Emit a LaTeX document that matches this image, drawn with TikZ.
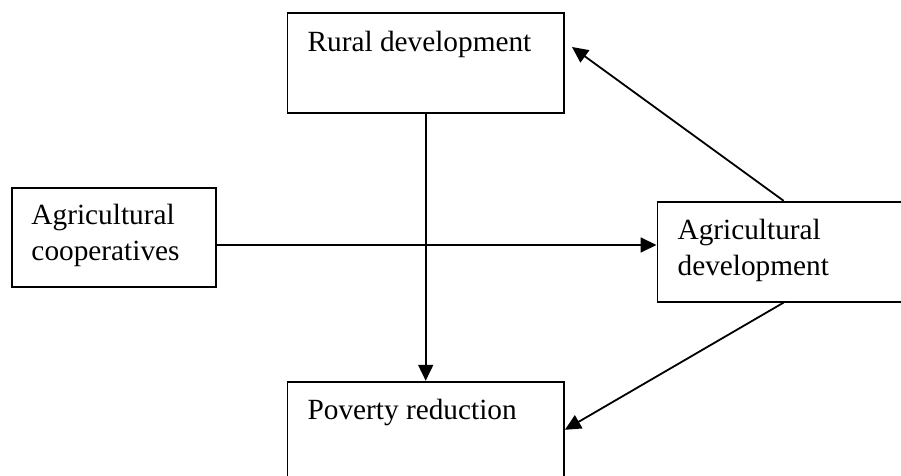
\documentclass[tikz,border=0pt]{standalone}
\usepackage{fontspec}
\setmainfont{Liberation Serif}
\usetikzlibrary{arrows.meta,calc}
\begin{document}
\begin{tikzpicture}[x=0.5pt,y=-0.5pt,
    box/.style={draw,rectangle,line width=0.85pt,inner sep=0pt},
    lbl/.style={anchor=base west,inner sep=0pt,align=left,font=\fontsize{14.65}{18.35}\selectfont},
    arr/.style={-{Triangle[length=8pt,width=7.5pt]},line width=0.9pt}]
    \useasboundingbox (0,0) rectangle (901,476);
    \clip (0,0) rectangle (901,476);

    % boxes
    \node[box,minimum width=138.35pt,minimum height=50pt] (rural) at (425.7,63.3) {};
    \node[box,minimum width=102.15pt,minimum height=49.5pt] (coop) at (113.8,237.8) {};
    \node[box,minimum width=126.35pt,minimum height=50pt] (agdev) at (783.7,251.7) {};
    \node[box,minimum width=138.35pt,minimum height=48.15pt] (poverty) at (425.7,429.8) {};

    % texts (base = last line)
    \node[lbl] (ruraltxt) at ($(rural.north west)+(20.7,38.7)$) {Rural development};
    \node[lbl] (cooptxt) at ($(coop.north west)+(20.3,73.4)$) {Agricultural\\cooperatives};
    \node[lbl] (agdevtxt) at ($(agdev.north west)+(20.7,75.0)$) {Agricultural\\development};
    \node[lbl] (povertytxt) at ($(poverty.north west)+(20.7,38.3)$) {Poverty reduction};

    \coordinate (mid) at (440,245);
    \coordinate (rtip) at (572,47);

    \draw[arr] (rural) -- (poverty);                    % rural -- poverty
    \draw[arr] (coop.east |- mid) -- (agdev.west |- mid); % coop -- agdev
    \draw[arr] (agdev.north) -- (rtip);                 % agdev -- rural
    \draw[arr] (agdev.south) -- (poverty.east);         % agdev -- poverty
\end{tikzpicture}
\end{document}
